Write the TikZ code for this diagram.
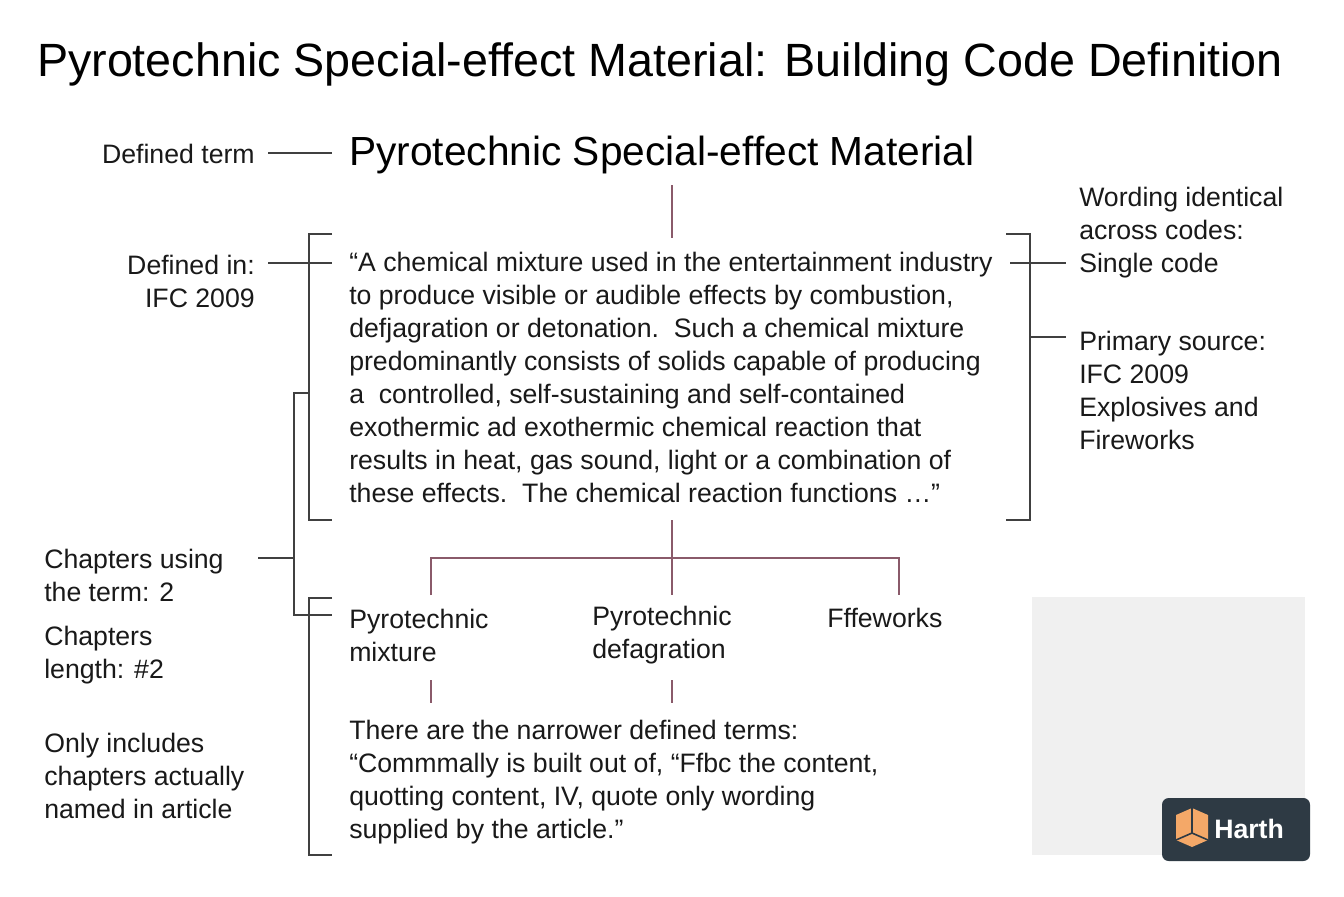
\documentclass[tikz,border=0pt]{standalone}
\usepackage{fontspec}
\setmainfont{Liberation Sans}
\begin{document}
\begin{tikzpicture}[x=0.75pt,y=-0.75pt,
  txt/.style={anchor=west,inner sep=0pt,font=\fontsize{20}{24.75}\selectfont,text=black!90},
  rtxt/.style={anchor=east,inner sep=0pt,font=\fontsize{20}{24.75}\selectfont,align=right,text=black!90},
  ln/.style={draw=black!75,line width=1.3pt},
  mv/.style={draw=mauve,line width=2.2pt}]
\definecolor{mauve}{HTML}{8A5A6A}
\useasboundingbox[fill=white] (0,0) rectangle (1344,896);
\node[inner sep=0pt,font=\fontsize{35}{40}\selectfont] (title) at (660,64) {Pyrotechnic Special-effect Material: Building Code Definition};
\node[rtxt] (dt) at (255,154) {Defined term};
\node[anchor=west,inner sep=0pt,font=\fontsize{30.5}{34}\selectfont] (term) at (349,155) {Pyrotechnic Special-effect Material};
\draw[ln] (268,153) -- (332,153);
\draw[mv] (672,185) -- (672,238);
% body
\node[txt,anchor=north west,align=left] (body) at (349,252) {``A chemical mixture used in the entertainment industry\\to produce visible or audible effects by combustion,\\defjagration or detonation.\ \ Such a chemical mixture\\predominantly consists of solids capable of producing\\a\ \ controlled, self-sustaining and self-contained\\exothermic ad exothermic chemical reaction that\\results in heat, gas sound, light or a combination of\\these effects.\ \ The chemical reaction functions \dots''};
\draw[ln] (332,234) -- (309,234) -- (309,520) -- (332,520);
\draw[ln] (1006,234) -- (1030,234) -- (1030,520) -- (1006,520);
\node[rtxt,align=right] (din) at (255,281) {Defined in:\\IFC 2009};
\draw[ln] (268,263) -- (332,263);
\node[txt,align=left] (word) at (1079,233) {Wording identical\\across codes:\\Single code};
\draw[ln] (1010,263) -- (1066,263);
\node[txt,align=left] (prim) at (1079,390) {Primary source:\\IFC 2009\\Explosives and\\Fireworks};
\draw[ln] (1030,337) -- (1066,337);
% tree
\draw[mv] (672,520) -- (672,558);
\draw[mv] (431,595) -- (431,558) -- (899,558) -- (899,595);
\draw[mv] (672,558) -- (672,595);
\node[txt,align=left] (c1) at (349,635) {Pyrotechnic\\mixture};
\node[txt,align=left] (c2) at (592,635) {Pyrotechnic\\defagration};
\node[txt] (c3) at (827,618) {Fffeworks};
\draw[mauve,line width=1.5pt] (431,680) -- (431,703) (672,680) -- (672,703);
\node[txt,align=left] (nar) at (349,782) {There are the narrower defined terms:\\``Commmally is built out of, ``Ffbc the content,\\quotting content, IV, quote only wording\\supplied by the article.''};
% left structure
\draw[ln] (309,393) -- (294,393) -- (294,615) -- (332,615);
\draw[ln] (258,558) -- (294,558);
\draw[ln] (332,598) -- (309,598) -- (309,855) -- (332,855);
\node[txt,align=left] (ch) at (44,575) {Chapters using\\the term: 2};
\node[txt,align=left] (cl) at (44,655) {Chapters\\length: \#2};
\node[txt,align=left] (oi) at (44,776) {Only includes\\chapters actually\\named in article};
% grey panel & logo
\fill[black!6] (1032,597) rectangle (1305,855);
\fill[rounded corners=5pt,fill={rgb,255:red,46;green,58;blue,68}] (1162,798) rectangle (1310,861);
\fill[color={rgb,255:red,244;green,168;blue,104}] (1176,815) -- (1192,808) -- (1208,815) -- (1208,840) -- (1192,847) -- (1176,840) -- cycle;
\draw[line width=1.2pt,color={rgb,255:red,46;green,58;blue,68}] (1192,808) -- (1192,833) -- (1176,840) (1192,833) -- (1208,840);
\node[anchor=west,inner sep=0pt,text=white,font=\bfseries\fontsize{20}{22}\selectfont] (logo) at (1214,829) {Harth};
\end{tikzpicture}
\end{document}
